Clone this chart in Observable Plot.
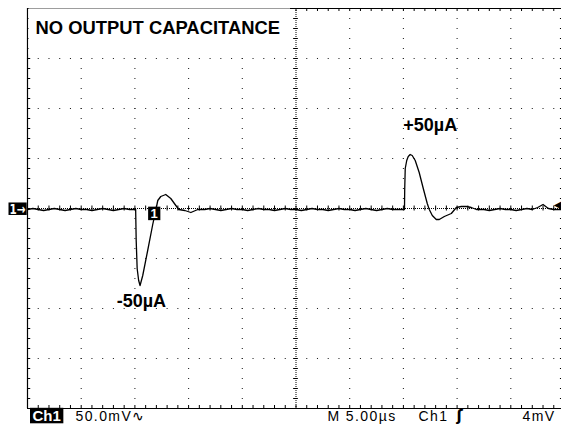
<!DOCTYPE html>
<html><head><meta charset="utf-8">
<script src="https://cdn.jsdelivr.net/npm/d3@7"></script>
<script src="https://cdn.jsdelivr.net/npm/@observablehq/plot@0.6"></script>
<style>
html,body{margin:0;padding:0;background:#fff;overflow:hidden}
#chart svg{display:block;overflow:hidden}
</style></head><body><div id="chart"></div>
<script>
// ---- scope settings ----
const timeDivs = [-25,-20,-15,-10,-5,0,5,10,15,20,25];      // µs (5 µs/div)
const voltDivs = [-200,-150,-100,-50,0,50,100,150,200];      // mV (50 mV/div)
const minorTimes = d3.range(-25, 25.001, 1);                 // 1/5 division
const minorVolts = d3.range(-200, 200.001, 10);

// ---- captured trace (µs, mV) ----
const traceTime = [
  -25,-24.5,-24,-23.5,-23,-22.5,-22,-21.5,-21,-20.5,-20,-19.5,-19,-18.5,-18,-17.5,-17,-16.5,-16,-15.5,
  -15.0,-14.93,-14.88,-14.79,-14.65,-14.52,-14.27,-13.81,-13.34,-13.06,-12.87,-12.59,-12.13,-11.66,-11.19,-10.91,-10.35,-9.79,-9.14,
  -8.5,-8,-7.5,-7,-6.5,-6,-5.5,-5,-4.5,-4,-3.5,-3,-2.5,-2,-1.5,-1,-0.5,0,0.5,1,1.5,2,2.5,3,3.5,4,4.5,5,5.5,6,6.5,7,7.5,8,8.5,9,9.5,
  9.89,10.10,10.12,10.17,10.31,10.45,10.63,10.82,11.10,11.47,11.85,12.22,12.41,12.69,13.06,13.34,13.81,14.46,14.93,15.39,15.86,16.32,16.8,
  17.5,18,18.5,19,19.5,20,20.5,21,21.5,22,22.5,23,23.5,24,24.5,24.72
];
const traceVolt = [
  -1,0,-1,-2,-1,0,-1,-2,-1,0,-1,-1,-2,-1,0,-1,-2,-1,0,-1,
  -1,-1,-32,-60,-72,-77,-67,-42,-16,-2,8,12,14,10,3,-1,-2,-4,-1,
  -1,0,-1,-2,-1,0,-1,-1,-2,-1,0,-1,-1,-2,-1,0,-1,-1,-2,-1,0,-1,-1,-2,-1,0,-1,-1,-2,-1,0,-1,-2,-1,0,-1,-1,
  -1,-1,18,40,48,52,54,53,48,36,20,5,-1,-7,-11,-11,-8,-5,1,2,2,1,-1,
  -1,-2,-1,0,-1,-1,-2,-1,0,-1,1,4,0,-1,-1,-1
];
const trace = traceTime.map((t, i) => ({t, v: traceVolt[i]}));

// ---- annotations ----
const title = "NO OUTPUT CAPACITANCE";
const peakLabels = ["-50µA", "+50µA"];
const peakLabelTime = [-14.4, 12.5];
const peakLabelVolt = [-93, 83];
const triggerLevel = 4;          // mV
const cursorTime = -13.2, cursorVolt = -5.5;
const statusTexts = ["Ch1", "50.0mV\u223F", "M 5.00\u00B5s", "Ch1", "\u0283", "4mV"];

const hLines = voltDivs.filter(v => Math.abs(v) < 200 && v !== 0);
const vLines = timeDivs.filter(t => Math.abs(t) < 25 && t !== 0);
const hDots = hLines.flatMap(v => minorTimes.map(t => ({t, v})));
const vDots = vLines.flatMap(t => minorVolts.map(v => ({t, v})));
const peaks = peakLabels.map((s, i) => ({s, t: peakLabelTime[i], v: peakLabelVolt[i]}));
const font = "Liberation Sans, Arial, Helvetica, sans-serif";

// marker colours used to find the elements afterwards
const INV = "#fffffe", GND = "#fffffd", TITLE = "#010101", STATUS = "#000001";

const statusMark = (s, dx, extra = {}) => Plot.text([s], {frameAnchor: "bottom-left", lineAnchor: "middle",
  dx, dy: 8, text: d => d, textAnchor: "start", fontSize: 14, fill: STATUS, ...extra});

const plot = Plot.plot({
  width: 561, height: 426,
  marginLeft: 27, marginRight: 0, marginTop: 8, marginBottom: 18,
  x: {domain: [-25, 24.72], axis: null},
  y: {domain: [-200, 200], axis: null},
  style: {fontFamily: font, background: "#fff", color: "#000"},
  marks: [
    // graticule dots
    Plot.dot(hDots, {x: "t", y: "v", r: 0.6, symbol: "square", fill: "#222", stroke: null}),
    Plot.dot(vDots, {x: "t", y: "v", r: 0.6, symbol: "square", fill: "#222", stroke: null}),
    // centre axes
    Plot.ruleX([0], {stroke: "#000", strokeWidth: 1, strokeDasharray: "1,1"}),
    Plot.ruleY([0], {stroke: "#000", strokeWidth: 1, strokeDasharray: "1,1"}),
    Plot.ruleX(minorTimes, {x: d => d, y1: -2.5, y2: 2.5, stroke: "#000", strokeWidth: 1}),
    Plot.ruleY(minorVolts, {y: d => d, x1: -0.22, x2: 0.22, stroke: "#000", strokeWidth: 1}),
    // border
    Plot.ruleX([-25], {stroke: "#000", strokeWidth: 1.2}),
    Plot.ruleY([-200, 200], {x1: -25, x2: 24.72, stroke: "#000", strokeWidth: 1.2}),
    Plot.ruleY(minorVolts, {y: d => d, x1: -25, x2: -24.7, stroke: "#000", strokeWidth: 1}),
    Plot.ruleY(minorVolts, {y: d => d, x1: 24.62, x2: 24.72, stroke: "#000", strokeWidth: 1}),
    Plot.ruleX(minorTimes, {x: d => d, y1: 200, y2: 197, stroke: "#000", strokeWidth: 1}),
    Plot.ruleX(minorTimes, {x: d => d, y1: -200, y2: -197, stroke: "#000", strokeWidth: 1}),
    // title (white box added below)
    Plot.text([title], {x: -25, y: 180, dx: 8, text: d => d, textAnchor: "start",
      fontSize: 18.4, fontWeight: "bold", fill: TITLE}),
    // waveform
    Plot.line(trace, {x: "t", y: "v", stroke: "#000", strokeWidth: 1.3, curve: "linear"}),
    // peak labels
    Plot.text(peaks, {x: "t", y: "v", text: "s", fontSize: 18, fontWeight: "bold", fill: "#000"}),
    // cursor marker on trace
    Plot.text(["1"], {x: cursorTime, y: cursorVolt, text: d => d, fontSize: 13, fontWeight: "bold", fill: INV}),
    // ground reference marker
    Plot.text(["1\u2192"], {x: -25, y: -1, dx: -18, text: d => d, textAnchor: "start", fontSize: 14,
      fontWeight: "bold", fontFamily: "DejaVu Sans", fill: GND}),
    // trigger level marker
    Plot.text(["\u25C0"], {x: 24.72, y: triggerLevel, text: d => d, textAnchor: "end", fontSize: 10,
      fill: "#000", fontFamily: "DejaVu Sans"}),
    // status bar
    statusMark(statusTexts[0], 5, {fontWeight: "bold", fontSize: 15, fill: INV}),
    statusMark(statusTexts[1], 48),
    statusMark(statusTexts[2], 300),
    statusMark(statusTexts[3], 391),
    statusMark(statusTexts[4], 429, {fontWeight: "bold", fontSize: 15, fontFamily: "DejaVu Sans"}),
    statusMark(statusTexts[5], 495)
  ]
});
document.getElementById("chart").appendChild(plot);

const svg = d3.select(plot.tagName.toLowerCase() === "svg" ? plot : plot.querySelector("svg"));
const pick = (c) => svg.selectAll(`g[fill="${c}"] text, text[fill="${c}"]`);

pick(STATUS).attr("letter-spacing", "1.4");
pick(TITLE).attr("fill", "#000");
pick(GND).attr("textLength", 16).attr("lengthAdjust", "spacingAndGlyphs");

function boxBehind(sel, fill, pl, pr, pt, pb) {
  sel.each(function () {
    const b = this.getBBox();
    const r = document.createElementNS("http://www.w3.org/2000/svg", "rect");
    const tr = this.getAttribute("transform");
    if (tr) r.setAttribute("transform", tr);
    r.setAttribute("x", b.x - pl); r.setAttribute("y", b.y - pt);
    r.setAttribute("width", b.width + pl + pr); r.setAttribute("height", b.height + pt + pb);
    r.setAttribute("fill", fill);
    this.parentNode.insertBefore(r, this);
  });
}
boxBehind(pick(TITLE), "#fff", 7, 10, 9, 16);
boxBehind(pick(INV), "#000", 2.5, 2.5, -0.5, -1);
boxBehind(pick(GND), "#000", 1, 1, -1.5, -2);
</script></body></html>
